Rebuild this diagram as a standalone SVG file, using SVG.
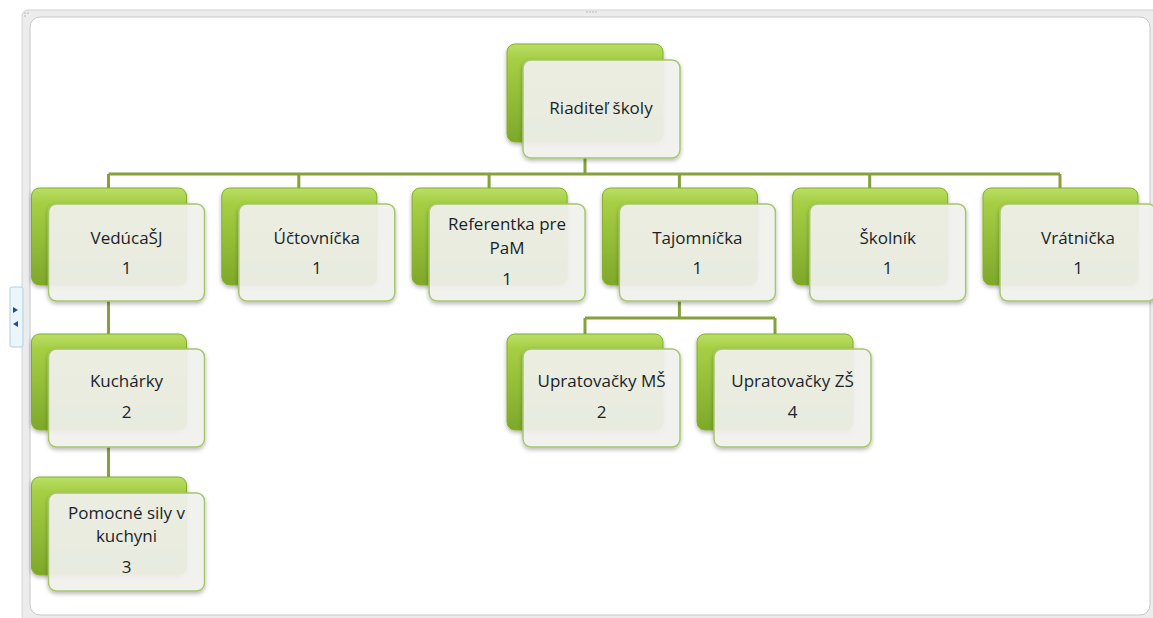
<svg xmlns="http://www.w3.org/2000/svg" width="1153" height="618" viewBox="0 0 1153 618">
<defs>
<linearGradient id="g" x1="0" y1="0" x2="0" y2="1">
<stop offset="0" stop-color="#bade66"/>
<stop offset="0.15" stop-color="#a6cf44"/>
<stop offset="1" stop-color="#7ea82a"/>
</linearGradient>
<filter id="sh" x="-10%" y="-10%" width="125%" height="130%">
<feDropShadow dx="0" dy="2" stdDeviation="2" flood-color="#000" flood-opacity="0.3"/>
</filter>
<style>
.back{fill:url(#g);stroke:#86ae2c;stroke-width:1;filter:url(#sh)}
.front{fill:#f3f3ef;fill-opacity:0.9;stroke:#a7c66c;stroke-width:1.5;filter:url(#sh)}
.t{font-family:"Open Sans","Liberation Sans",Arial,sans-serif;font-size:17px;fill:#1a1f2a;text-anchor:middle}
.c{fill:none;stroke:#87a03e;stroke-width:3}
</style>
</defs>
<rect x="0" y="0" width="1153" height="618" fill="#fff"/>
<rect x="22" y="10" width="1140" height="612" rx="6" fill="#ececec" stroke="#d2d2d2"/>
<rect x="30" y="17" width="1120" height="598" rx="10" fill="#fff" stroke="#c8c8c8"/>
<g fill="#b0b0b0"><circle cx="587" cy="12" r="0.8"/><circle cx="590" cy="12" r="0.8"/><circle cx="593" cy="12" r="0.8"/><circle cx="596" cy="12" r="0.8"/><circle cx="25" cy="13" r="0.8"/><circle cx="28" cy="13" r="0.8"/><circle cx="25" cy="16" r="0.8"/></g>
<g id="tab">
<rect x="10" y="287" width="13" height="60" rx="2" fill="#eaf5fc" stroke="#b0cfe2"/>
<path d="M13,307 L18,310 L13,313 Z" fill="#1f4f8f"/>
<path d="M18,321 L13,324 L18,327 Z" fill="#1f4f8f"/>
</g>
<g id="connectors">
<path class="c" d="M585,158 V174 M108.5,174 H1060 M108.5,174 V188 M298.8,174 V188 M489.1,174 V188 M679.4,174 V188 M869.7,174 V188 M1060,174 V188"/>
<path class="c" d="M108.5,301 V334 M108.5,447 V477"/>
<path class="c" d="M679.4,301 V318 M585,318 H775 M585,318 V334 M775,318 V334"/>
</g>
<g id="n0"><rect class="back" x="507" y="44" width="156" height="98" rx="8"/><rect class="front" x="523" y="60" width="157" height="98" rx="8"/><text class="t" x="601" y="114">Riaditeľ školy</text></g>
<g id="n1"><rect class="back" x="31.5" y="188" width="155" height="97" rx="8"/><rect class="front" x="48.5" y="204" width="156" height="97" rx="8"/><text class="t" x="126.5" y="244">VedúcaŠJ</text><text class="t" x="126.5" y="274">1</text></g>
<g id="n2"><rect class="back" x="221.8" y="188" width="155" height="97" rx="8"/><rect class="front" x="238.8" y="204" width="156" height="97" rx="8"/><text class="t" x="316.8" y="244">Účtovníčka</text><text class="t" x="316.8" y="274">1</text></g>
<g id="n3"><rect class="back" x="412.1" y="188" width="155" height="97" rx="8"/><rect class="front" x="429.1" y="204" width="156" height="97" rx="8"/><text class="t" x="507.1" y="230">Referentka pre</text><text class="t" x="507.1" y="254">PaM</text><text class="t" x="507.1" y="285">1</text></g>
<g id="n4"><rect class="back" x="602.4" y="188" width="155" height="97" rx="8"/><rect class="front" x="619.4" y="204" width="156" height="97" rx="8"/><text class="t" x="697.4" y="244">Tajomníčka</text><text class="t" x="697.4" y="274">1</text></g>
<g id="n5"><rect class="back" x="792.7" y="188" width="155" height="97" rx="8"/><rect class="front" x="809.7" y="204" width="156" height="97" rx="8"/><text class="t" x="887.7" y="244">Školník</text><text class="t" x="887.7" y="274">1</text></g>
<g id="n6"><rect class="back" x="983" y="188" width="155" height="97" rx="8"/><rect class="front" x="1000" y="204" width="156" height="97" rx="8"/><text class="t" x="1078" y="244">Vrátnička</text><text class="t" x="1078" y="274">1</text></g>
<g id="n7"><rect class="back" x="31.5" y="334" width="155" height="96" rx="8"/><rect class="front" x="48.5" y="349" width="156" height="98" rx="8"/><text class="t" x="126.5" y="387">Kuchárky</text><text class="t" x="126.5" y="418">2</text></g>
<g id="n8"><rect class="back" x="31.5" y="477" width="155" height="98" rx="8"/><rect class="front" x="48.5" y="493" width="156" height="98" rx="8"/><text class="t" x="126.5" y="519">Pomocné sily v</text><text class="t" x="126.5" y="542">kuchyni</text><text class="t" x="126.5" y="573">3</text></g>
<g id="n9"><rect class="back" x="507" y="334" width="156" height="96" rx="8"/><rect class="front" x="523" y="349" width="157" height="98" rx="8"/><text class="t" x="601.5" y="387">Upratovačky MŠ</text><text class="t" x="601.5" y="418">2</text></g>
<g id="n10"><rect class="back" x="697" y="334" width="156" height="96" rx="8"/><rect class="front" x="714" y="349" width="157" height="98" rx="8"/><text class="t" x="792.5" y="387">Upratovačky ZŠ</text><text class="t" x="792.5" y="418">4</text></g>
</svg>
